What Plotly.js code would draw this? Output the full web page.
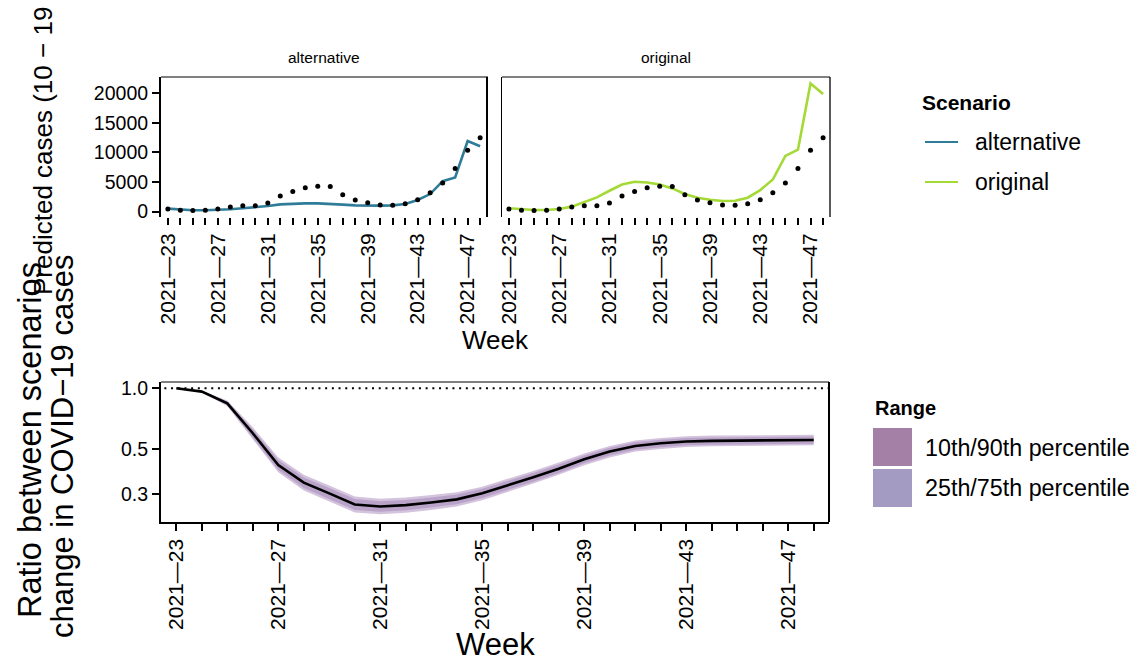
<!DOCTYPE html>
<html><head><meta charset="utf-8">
<script src="https://cdn.plot.ly/plotly-3.0.1.min.js"></script>
<style>body{margin:0;background:#fff}#chart{width:1139px;height:664px}</style>
</head><body><div id="chart"></div><script>
// ---- data ----
const weeks = ["2021—23","2021—24","2021—25","2021—26","2021—27","2021—28","2021—29","2021—30","2021—31","2021—32","2021—33","2021—34","2021—35","2021—36","2021—37","2021—38","2021—39","2021—40","2021—41","2021—42","2021—43","2021—44","2021—45","2021—46","2021—47","2021—48"];
const labelledWeeks = ["2021—23","2021—27","2021—31","2021—35","2021—39","2021—43","2021—47"];
const observed = [450,220,170,220,450,780,1010,1010,1460,2630,3420,4030,4310,4260,2860,1960,1510,1120,1060,1350,2020,3190,4820,7280,10360,12490];
const alternative = [500,340,220,220,280,390,560,730,950,1230,1350,1400,1400,1350,1180,1060,1010,1010,1060,1290,1960,2970,5150,5770,11930,11040];
const original = [560,390,280,280,450,840,1570,2410,3530,4590,5040,4930,4590,3920,2970,2350,2020,1790,1850,2350,3640,5430,9410,10480,21680,19890];
const ratioMedian = [1.0,0.963,0.843,0.600,0.418,0.342,0.303,0.267,0.261,0.265,0.273,0.283,0.303,0.331,0.364,0.401,0.446,0.487,0.519,0.535,0.546,0.550,0.552,0.554,0.554,0.556];
const ratioQ10 = [1.0,0.955,0.815,0.560,0.385,0.313,0.277,0.244,0.239,0.243,0.251,0.261,0.280,0.307,0.339,0.374,0.417,0.456,0.487,0.502,0.513,0.517,0.519,0.521,0.521,0.523];
const ratioQ25 = [1.0,0.958,0.825,0.574,0.395,0.322,0.285,0.251,0.246,0.250,0.258,0.268,0.287,0.314,0.346,0.382,0.426,0.466,0.497,0.512,0.523,0.527,0.529,0.531,0.531,0.533];
const ratioQ75 = [1.0,0.968,0.860,0.627,0.442,0.363,0.322,0.284,0.277,0.281,0.289,0.299,0.319,0.348,0.382,0.420,0.466,0.508,0.541,0.557,0.568,0.572,0.574,0.576,0.576,0.578];
const ratioQ90 = [1.0,0.971,0.870,0.642,0.455,0.374,0.331,0.292,0.285,0.289,0.297,0.307,0.327,0.357,0.391,0.430,0.477,0.519,0.552,0.569,0.580,0.584,0.586,0.588,0.588,0.590];
const caseTicks = [0,5000,10000,15000,20000];
const caseTickText = ["0","5000","10000","15000","20000"];
const ratioTicks = [0.3,0.5,1.0];
const ratioTickText = ["0.3","0.5","1.0"];

// ---- styling ----
const W = 1139, H = 664;
const FONT = "Liberation Sans, Arial, Helvetica, sans-serif";
const px = x => x / W;
const py = y => 1 - y / H;
const tickText = weeks.map(w => labelledWeeks.includes(w) ? w : "");
const BLUE = "#2F7C99", GREEN = "#A3DA35";
const XTICKFONT = {family: FONT, size: 21, color: "black"};
const YTICKFONT = {family: FONT, size: 19.5, color: "black"};

const xCommon = {
  type: "category", categoryorder: "array", categoryarray: weeks,
  range: [-0.55, 25.55], tickmode: "array", tickvals: weeks, ticktext: tickText,
  tickangle: -90, ticks: "outside", ticklen: 7, tickwidth: 2, tickcolor: "black",
  showline: false, showgrid: false, zeroline: false, tickfont: XTICKFONT
};

const traces = [
  {x: weeks, y: alternative, type: "scatter", mode: "lines", line: {color: BLUE, width: 2.6}, xaxis: "x", yaxis: "y", name: "alternative"},
  {x: weeks, y: observed, type: "scatter", mode: "markers", marker: {color: "black", size: 5}, xaxis: "x", yaxis: "y", name: "observed"},
  {x: weeks, y: original, type: "scatter", mode: "lines", line: {color: GREEN, width: 2.6}, xaxis: "x2", yaxis: "y2", name: "original"},
  {x: weeks, y: observed, type: "scatter", mode: "markers", marker: {color: "black", size: 5}, xaxis: "x2", yaxis: "y2", name: "observed"},
  {x: weeks, y: ratioQ10, type: "scatter", mode: "lines", line: {width: 0, color: "rgba(0,0,0,0)"}, xaxis: "x3", yaxis: "y3", hoverinfo: "skip"},
  {x: weeks, y: ratioQ90, type: "scatter", mode: "lines", line: {width: 0, color: "rgba(0,0,0,0)"}, fill: "tonexty", fillcolor: "#D4C3DD", xaxis: "x3", yaxis: "y3", name: "10th/90th percentile"},
  {x: weeks, y: ratioQ25, type: "scatter", mode: "lines", line: {width: 0, color: "rgba(0,0,0,0)"}, xaxis: "x3", yaxis: "y3", hoverinfo: "skip"},
  {x: weeks, y: ratioQ75, type: "scatter", mode: "lines", line: {width: 0, color: "rgba(0,0,0,0)"}, fill: "tonexty", fillcolor: "#B9A3C9", xaxis: "x3", yaxis: "y3", name: "25th/75th percentile"},
  {x: weeks, y: ratioMedian, type: "scatter", mode: "lines", line: {color: "black", width: 2.6}, xaxis: "x3", yaxis: "y3", name: "median"}
];

const shapes = [
  {type: "line", xref: "paper", yref: "paper", x0: px(161), x1: px(488), y0: py(77), y1: py(77), line: {color: "black", width: 1}},
  {type: "line", xref: "paper", yref: "paper", x0: px(487), x1: px(487), y0: py(77), y1: py(217), line: {color: "black", width: 2}},
  {type: "line", xref: "paper", yref: "paper", x0: px(502), x1: px(830), y0: py(77), y1: py(77), line: {color: "black", width: 1}},
  {type: "line", xref: "paper", yref: "paper", x0: px(830), x1: px(830), y0: py(77), y1: py(217), line: {color: "black", width: 1.3}},
  {type: "line", xref: "paper", yref: "paper", x0: px(161), x1: px(829), y0: py(382), y1: py(382), line: {color: "black", width: 1}},
  {type: "line", xref: "paper", yref: "paper", x0: px(829), x1: px(829), y0: py(382), y1: py(522), line: {color: "black", width: 2}},
  {type: "line", xref: "x3 domain", yref: "y3", x0: 0.005, x1: 1, y0: 1, y1: 1, line: {color: "black", width: 2, dash: "2px,4.7px"}},
  {type: "line", xref: "paper", yref: "paper", x0: px(925), x1: px(958), y0: py(142), y1: py(142), line: {color: BLUE, width: 2}},
  {type: "line", xref: "paper", yref: "paper", x0: px(925), x1: px(958), y0: py(182), y1: py(182), line: {color: GREEN, width: 2}},
  {type: "rect", xref: "paper", yref: "paper", x0: px(873), x1: px(912), y0: py(428), y1: py(466), line: {width: 0}, fillcolor: "#A47FA6"},
  {type: "rect", xref: "paper", yref: "paper", x0: px(873), x1: px(912), y0: py(469), y1: py(507), line: {width: 0}, fillcolor: "#A39BC1"}
];

function ann(text, x, y, size, opts) {
  return Object.assign({text: text, xref: "paper", yref: "paper", x: px(x), y: py(y), showarrow: false,
    xanchor: "center", yanchor: "middle", font: {family: FONT, size: size, color: "black"}}, opts || {});
}

const annotations = [
  ann("alternative", 324, 58, 15.5),
  ann("original", 666, 58, 15.5),
  ann("Week", 495, 340, 26),
  ann("Week", 495, 644, 31),
  ann("Predicted cases (10 − 19", 43, 151, 26, {textangle: -90}),
  ann("Ratio between scenarios", 30, 440, 32.5, {textangle: -90}),
  ann("change in COVID−19 cases", 62, 447, 31, {textangle: -90}),
  ann("<b>Scenario</b>", 920, 102, 21, {xanchor: "left"}),
  ann("alternative", 973, 142, 23, {xanchor: "left"}),
  ann("original", 973, 182, 23, {xanchor: "left"}),
  ann("<b>Range</b>", 873, 408, 20, {xanchor: "left"}),
  ann("10th/90th percentile", 923, 448, 23.3, {xanchor: "left"}),
  ann("25th/75th percentile", 923, 488, 23.3, {xanchor: "left"})
];

const layout = {
  width: W, height: H, margin: {l: 0, r: 0, t: 0, b: 0},
  paper_bgcolor: "white", plot_bgcolor: "white", showlegend: false,
  xaxis: Object.assign({}, xCommon, {domain: [px(161), px(487)], anchor: "y"}),
  xaxis2: Object.assign({}, xCommon, {domain: [px(502), px(830)], anchor: "y2"}),
  xaxis3: Object.assign({}, xCommon, {domain: [px(161), px(829)], anchor: "y3", range: [-0.6, 25.6],
    showline: true, linecolor: "black", linewidth: 1.5}),
  yaxis: {domain: [py(217), py(77)], anchor: "x", range: [-910, 22760], tickmode: "array", tickvals: caseTicks,
    ticktext: caseTickText, ticks: "outside", ticklen: 7, tickwidth: 2, tickcolor: "black", showline: true,
    linecolor: "black", linewidth: 2, showgrid: false, zeroline: false, tickfont: YTICKFONT},
  yaxis2: {domain: [py(217), py(77)], anchor: "x2", range: [-910, 22760], showticklabels: false, ticks: "",
    showline: true, linecolor: "black", linewidth: 1.5, showgrid: false, zeroline: false},
  yaxis3: {domain: [py(522), py(382)], anchor: "x3", type: "log", range: [-0.660, 0.031], tickmode: "array",
    tickvals: ratioTicks, ticktext: ratioTickText, ticks: "outside", ticklen: 7, tickwidth: 2, tickcolor: "black",
    showline: true, linecolor: "black", linewidth: 2, showgrid: false, zeroline: false, tickfont: YTICKFONT},
  shapes: shapes,
  annotations: annotations
};

Plotly.newPlot("chart", traces, layout, {displayModeBar: false, staticPlot: true});
</script></body></html>
